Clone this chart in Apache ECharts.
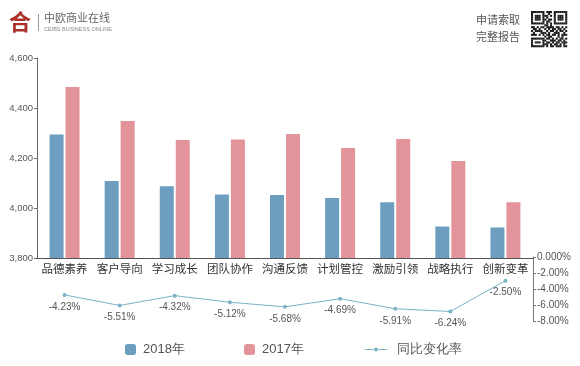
<!DOCTYPE html>
<html><head><meta charset="utf-8">
<script src="https://cdn.jsdelivr.net/npm/echarts@6/dist/echarts.min.js"></script>
<style>html,body{margin:0;padding:0;background:#fff}#c{width:580px;height:366px}</style>
</head><body><div id="c"></div>
<script>
var categories = ['品德素养','客户导向','学习成长','团队协作','沟通反馈','计划管控','激励引领','战略执行','创新变革'];
var values2018 = [4294, 4108, 4087, 4054, 4052, 4040, 4023, 3926, 3922];
var values2017 = [4484, 4348, 4272, 4274, 4296, 4240, 4276, 4188, 4023];
var changeRate = [-4.23, -5.51, -4.32, -5.12, -5.68, -4.69, -5.91, -6.24, -2.50];
var leftTicks = [3800, 4000, 4200, 4400, 4600];
var rightTicks = [-8, -6, -4, -2, 0];

var qrRows = [
'1111111011101111111',
'1000001001001000001',
'1011101110101011101',
'1011101010001011101',
'1011101101101011101',
'1000001011001000001',
'1111111010101111111',
'0000000110100000000',
'1101011011110110101',
'0110100101011011010',
'1011110010110101101',
'0100011101001110010',
'1110101011011010111',
'0000000101100010100',
'1111111011010101101',
'1000001100111011010',
'1011101011010110111',
'1000001110101101010',
'1111111010110111011'
];
var qr = [];
var ms = 1.9;
for (var r = 0; r < qrRows.length; r++) {
  for (var c = 0; c < qrRows[r].length; c++) {
    if (qrRows[r][c] === '1') {
      qr.push({type:'rect', left:531 + c*ms, top:11 + r*ms, shape:{width:ms+0.15,height:ms+0.15}, style:{fill:'#1a1a1a'}});
    }
  }
}

var chart = echarts.init(document.getElementById('c'), null, {renderer:'canvas'});
var font = 'Liberation Sans, Arial, sans-serif';
var lineIcon = 'path://M0,1.6h8.5v0.8h-8.5z M13.5,1.6h8.5v0.8h-8.5z M11,0a2,2 0 1 0 0.001 0z';
chart.setOption({
  animation:false,
  textStyle:{fontFamily:font},
  grid:[
    {left:37, right:47, top:58, bottom:108},
    {left:37, right:47, top:257, height:64},
    {left:37, right:47, top:260, height:66}
  ],
  legend:[
    {data:['2018年'], left:125, top:343, padding:0, itemWidth:11, itemHeight:11, itemGap:0, textStyle:{fontSize:13, color:'#555', padding:[0,0,0,2]}, selectedMode:false},
    {data:['2017年'], left:244, top:343, padding:0, itemWidth:11, itemHeight:11, itemGap:0, textStyle:{fontSize:13, color:'#555', padding:[0,0,0,2]}, selectedMode:false},
    {data:[{name:'同比变化率', icon:lineIcon}], left:365, top:343, padding:0, itemWidth:22, itemHeight:4, itemGap:0, textStyle:{fontSize:13, color:'#555', padding:[0,0,0,5]}, selectedMode:false}
  ],
  xAxis:[
    {type:'category', gridIndex:0, data:categories,
     axisLine:{show:true, lineStyle:{color:'#555', width:1}},
     axisTick:{show:false},
     axisLabel:{fontSize:11.5, color:'#333', margin:5, interval:0, fontFamily:'Noto Sans CJK SC'}},
    {type:'category', gridIndex:1, data:categories, show:false},
    {type:'category', gridIndex:2, data:categories, show:false}
  ],
  yAxis:[
    {type:'value', gridIndex:0, min:3800, max:4600, interval:200,
     axisLine:{show:true, lineStyle:{color:'#666'}},
     axisTick:{show:true, length:3, lineStyle:{color:'#666'}},
     splitLine:{show:false},
     axisLabel:{fontSize:9.5, color:'#555', margin:4, formatter:function(v){return v.toLocaleString('en-US');}}},
    {type:'value', gridIndex:1, position:'right', min:-8, max:0, interval:2,
     axisLine:{show:true, lineStyle:{color:'#777'}},
     axisTick:{show:true, length:3, lineStyle:{color:'#777'}},
     splitLine:{show:false},
     axisLabel:{fontSize:10, color:'#555', margin:4, formatter:function(v){return v===0 ? '0.000%' : v.toFixed(2)+'%';}}},
    {type:'value', gridIndex:2, min:-8, max:0, show:false}
  ],
  series:[
    {name:'2018年', type:'bar', xAxisIndex:0, yAxisIndex:0, data:values2018, barWidth:14, barGap:'14%',
     itemStyle:{color:'#6d9ec0'}},
    {name:'2017年', type:'bar', xAxisIndex:0, yAxisIndex:0, data:values2017, barWidth:14,
     itemStyle:{color:'#e3939a'}},
    {name:'同比变化率', type:'line', xAxisIndex:2, yAxisIndex:2, data:changeRate,
     symbol:'circle', symbolSize:4,
     lineStyle:{color:'#7ab3c4', width:1},
     itemStyle:{color:'#7ab3c4'},
     label:{show:true, position:'bottom', distance:5, fontSize:10, color:'#555', formatter:function(p){return p.value.toFixed(2)+'%';}}}
  ],
  graphic:[
    {type:'text', left:9, top:11, style:{text:'合', fontSize:22, fontWeight:'bold', fill:'#a9322c', fontFamily:'Noto Sans CJK SC'}},
    {type:'rect', left:38, top:14, shape:{width:1, height:17}, style:{fill:'#999'}},
    {type:'text', left:44, top:12, style:{text:'中欧商业在线', fontSize:11, fill:'#666', fontFamily:'Noto Sans CJK SC'}},
    {type:'text', left:44, top:26, style:{text:'CEIBS BUSINESS ONLINE', fontSize:5.5, fill:'#888'}},
    {type:'text', right:60, top:14, style:{text:'申请索取', fontSize:11, fill:'#555', fontFamily:'Noto Sans CJK SC', textAlign:'right'}},
    {type:'text', right:60, top:31, style:{text:'完整报告', fontSize:11, fill:'#555', fontFamily:'Noto Sans CJK SC', textAlign:'right'}}
  ].concat(qr)
});
</script></body></html>
